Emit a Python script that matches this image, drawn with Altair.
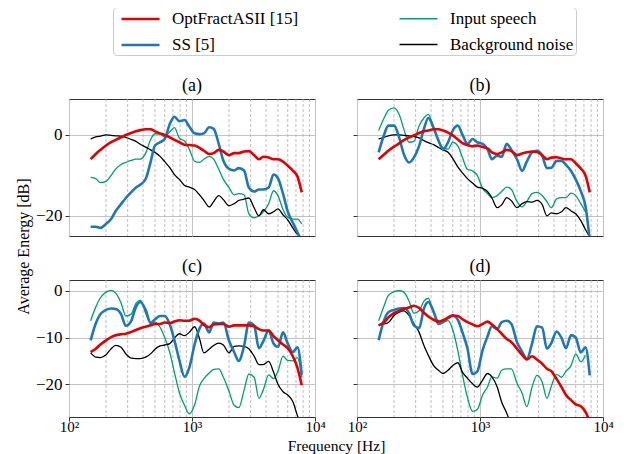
import altair as alt
import pandas as pd

FREQ = [150, 165, 180, 200, 220, 240, 265, 290, 320, 350,
        380, 420, 460, 500, 550, 600, 660, 720, 790, 870,
        950, 1050, 1150, 1250, 1380, 1500, 1650, 1800, 2000, 2200,
        2400, 2650, 2900, 3200, 3500, 3800, 4200, 4600, 5000, 5500,
        6000, 6600, 7200, 7800]

MINOR = [200, 300, 400, 500, 600, 700, 800, 900,
         2000, 3000, 4000, 5000, 6000, 7000, 8000, 9000]

SERIES = ["OptFractASII [15]", "SS [5]", "Input speech", "Background noise"]
COLORS = ["#e00000", "#1f77b4", "#009e73", "#000000"]
WIDTHS = [2.6, 2.6, 1.3, 1.3]
DRAW_ORDER = ["Input speech", "Background noise", "SS [5]", "OptFractASII [15]"]

# ---- panel (a)
RED_A = [-6.0, -4.7, -3.7, -2.6, -1.8, -1.2, -0.6, 0.0, 0.5, 0.9,
         1.2, 1.4, 1.4, 0.9, 0.4, 0.0, -0.6, -1.2, -1.8, -2.4,
         -2.5, -2.6, -3.2, -3.9, -4.7, -4.5, -3.7, -4.1, -5.0, -4.5,
         -4.5, -4.1, -4.0, -5.0, -6.0, -5.4, -5.6, -6.0, -6.0, -6.6,
         -7.6, -8.8, -10.3, -14.2]
BLUE_A = [-22.7, -22.7, -23.0, -22.0, -20.8, -18.8, -17.1, -15.6, -14.2, -13.0,
          -12.3, -10.9, -6.8, -2.6, -1.8, -1.0, 2.7, 4.5, 3.4, 3.7,
          2.1, 0.4, 0.2, 0.4, 1.9, 1.5, -2.2, -6.4, -8.4, -8.8,
          -8.2, -8.8, -13.0, -14.0, -13.5, -13.5, -13.0, -9.8, -10.7, -14.6,
          -18.9, -21.7, -24.1, -26.2]
GREEN_A = [-10.5, -10.8, -11.8, -11.5, -10.0, -8.4, -7.3, -6.8, -6.3, -6.0,
           -6.0, -4.5, -1.2, 0.3, 0.2, -0.5, 0.8, 1.8, -0.8, -1.5,
           -3.5, -6.5, -6.8, -6.0, -5.3, -6.0, -8.5, -11.0, -13.0, -14.8,
           -14.5, -14.8, -19.5, -20.5, -20.0, -19.0, -17.0, -13.8, -15.0, -18.5,
           -20.4, -20.8, -20.8, -22.0]
BLACK_A = [-1.0, -0.5, -0.3, 0.0, -0.1, -0.2, -0.3, -0.6, -1.1, -1.6,
           -2.3, -3.0, -3.7, -4.3, -5.3, -6.6, -8.1, -9.8, -11.0, -12.5,
           -12.9, -13.5, -14.8, -16.2, -17.8, -16.5, -15.0, -16.0, -17.5, -17.0,
           -16.2, -15.9, -15.6, -18.0, -20.0, -18.5, -19.5, -19.0, -18.3, -19.8,
           -21.0, -23.0, -24.6, -25.5]

# ---- panel (b)
RED_B = [-6.0, -4.9, -3.9, -2.9, -2.1, -1.3, -0.6, -0.1, 0.5, 0.9,
         1.1, 1.4, 1.4, 1.1, 0.6, -0.1, -1.1, -2.0, -2.5, -2.8,
         -2.6, -3.0, -3.3, -4.3, -4.7, -4.3, -3.7, -4.0, -5.0, -4.6,
         -4.3, -4.1, -4.2, -5.0, -6.0, -5.6, -5.5, -5.8, -6.0, -6.0,
         -7.0, -8.3, -10.0, -14.2]
BLUE_B = [-4.3, -0.2, 2.3, 2.3, -0.6, -4.7, -6.8, -5.6, -2.7, 1.5,
          4.2, 1.7, -1.4, -3.5, -1.8, 1.1, 2.3, 0.1, -2.2, -1.0,
          -1.8, -2.2, -3.5, -6.0, -5.1, -5.4, -2.2, -3.7, -6.0, -8.9,
          -6.6, -4.3, -3.9, -5.1, -8.2, -8.1, -6.4, -6.4, -7.4, -8.9,
          -11.0, -13.9, -17.6, -26.0]
GREEN_B = [1.1, 4.0, 6.1, 6.7, 5.1, 1.5, -1.8, -1.6, 2.3, 4.2,
           5.1, 1.9, -1.4, -3.2, -3.5, -1.8, -2.7, -5.6, -8.5, -8.9,
           -10.0, -13.2, -14.5, -15.5, -15.0, -14.0, -12.9, -13.5, -16.5, -17.8,
           -16.5, -14.5, -14.2, -15.0, -16.5, -18.0, -15.8, -15.5, -15.5, -14.4,
           -15.0, -17.0, -19.0, None]
BLACK_B = [-1.0, -0.6, -0.2, 0.0, 0.0, -0.1, -0.2, -0.4, -0.7, -1.4,
           -1.9, -2.4, -3.1, -3.7, -4.3, -5.8, -7.9, -9.4, -10.8, -11.9,
           -12.9, -13.2, -14.0, -15.6, -18.0, -17.3, -15.5, -16.3, -18.0, -17.0,
           -16.5, -16.6, -16.2, -17.2, -20.0, -19.3, -19.5, -19.0, -18.0, -18.8,
           -19.5, -21.2, -23.4, -25.2]

# ---- panel (c)
RED_C = [-13.1, -12.4, -11.5, -10.6, -9.9, -9.5, -9.3, -9.2, -8.8, -8.4,
         -8.0, -7.7, -7.4, -7.1, -7.1, -6.8, -6.9, -6.6, -6.3, -6.4,
         -6.4, -6.0, -6.4, -7.3, -7.8, -7.2, -7.1, -7.1, -7.7, -7.4,
         -7.4, -7.4, -7.4, -7.6, -8.2, -8.5, -8.5, -9.7, -10.6, -11.5,
         -12.3, -14.0, -16.5, -20.2]
BLUE_C = [-10.6, -7.0, -5.0, -4.1, -3.8, -3.9, -5.0, -7.5, -6.5, -3.5,
          -2.4, -4.1, -6.9, -6.1, -5.4, -5.4, -7.2, -10.6, -14.9, -18.4,
          -16.5, -11.5, -8.1, -7.0, -8.9, -6.8, -7.0, -6.8, -10.7, -13.1,
          -15.0, -11.8, -6.8, -7.4, -12.3, -10.8, -8.5, -11.3, -12.0, -8.9,
          -11.3, -13.1, -12.1, -18.0]
GREEN_C = [-6.4, -3.5, -1.5, -0.3, 0.1, -0.5, -2.6, -5.4, -5.0, -2.7,
           -2.0, -4.8, -6.8, -6.7, -7.8, -10.0, -13.2, -17.5, -21.8, -24.5,
           -26.3, -24.4, -20.4, -18.8, -17.6, -16.8, -16.7, -18.5, -21.5, -24.5,
           -25.0, -21.3, -17.8, -18.5, -23.0, -21.2, -18.0, -18.8, -17.2, -14.0,
           -14.9, -15.0, -14.3, -18.5]
BLACK_C = [-13.3, -14.2, -14.3, -13.7, -12.4, -11.7, -12.1, -13.5, -14.4, -14.5,
           -14.5, -14.2, -13.5, -12.5, -11.8, -11.6, -11.3, -10.1, -9.2, -9.6,
           -8.9, -7.7, -10.2, -13.3, -12.5, -11.7, -11.2, -11.6, -13.3, -11.9,
           -11.8, -11.9, -12.4, -14.0, -15.8, -15.8, -15.1, -17.4, -20.0, -21.6,
           -22.3, -23.7, -26.7, -29.0]

# ---- panel (d)
RED_D = [-7.4, -6.8, -5.7, -4.8, -4.3, -3.9, -3.6, -3.2, -3.7, -4.7,
         -5.5, -6.2, -6.6, -6.3, -5.8, -5.3, -5.4, -6.1, -6.7, -7.2,
         -7.6, -7.1, -6.6, -7.2, -8.2, -9.2, -10.3, -11.0, -12.4, -13.7,
         -14.7, -14.0, -14.7, -15.6, -16.7, -17.2, -18.9, -20.6, -22.3, -23.4,
         -24.3, -24.7, -25.9, -28.0]
BLUE_D = [-10.6, -6.5, -4.6, -4.1, -3.8, -3.7, -4.8, -7.4, -8.0, -3.8,
          -2.4, -4.5, -7.1, -6.7, -5.7, -5.3, -6.2, -8.9, -12.3, -17.8,
          -17.3, -12.7, -9.8, -7.6, -8.2, -6.7, -6.4, -7.1, -11.0, -13.0,
          -14.6, -11.3, -7.6, -7.9, -12.4, -11.2, -8.7, -10.1, -12.3, -9.5,
          -10.0, -13.2, -12.1, -18.1]
GREEN_D = [-6.4, -3.4, -1.0, -0.2, 0.0, -0.3, -2.2, -4.8, -4.3, -2.2,
           -1.6, -4.8, -6.4, -6.7, -6.4, -8.3, -12.8, -18.0, -22.8, -25.8,
           -25.4, -22.3, -20.6, -18.4, -18.7, -17.0, -16.7, -16.7, -19.8, -21.9,
           -24.8, -20.6, -18.1, -19.5, -23.0, -20.4, -17.9, -18.5, -17.2, -16.0,
           -13.5, -15.2, -13.8, None]
BLACK_D = [-7.4, -7.1, -6.8, -5.3, -4.6, -4.3, -5.3, -7.0, -8.9, -11.7,
           -13.8, -16.0, -17.0, -17.7, -17.0, -16.0, -15.4, -17.4, -18.7, -19.9,
           -20.6, -19.1, -17.7, -18.4, -20.6, -23.8, -26.2, -29.0, None, None,
           None, None, None, None, None, None, None, None, None, None,
           None, None, None, None]

PANEL_DATA = {
    "(a)": {"OptFractASII [15]": RED_A, "SS [5]": BLUE_A, "Input speech": GREEN_A, "Background noise": BLACK_A},
    "(b)": {"OptFractASII [15]": RED_B, "SS [5]": BLUE_B, "Input speech": GREEN_B, "Background noise": BLACK_B},
    "(c)": {"OptFractASII [15]": RED_C, "SS [5]": BLUE_C, "Input speech": GREEN_C, "Background noise": BLACK_C},
    "(d)": {"OptFractASII [15]": RED_D, "SS [5]": BLUE_D, "Input speech": GREEN_D, "Background noise": BLACK_D},
}

TOP_DOMAIN = [-25, 8.9]
BOTTOM_DOMAIN = [-27, 2.3]
TOP_TICKS = [0, -20]
BOTTOM_TICKS = [0, -10, -20]

rows = []
for pname, series in PANEL_DATA.items():
    for sname, vals in series.items():
        for f, v in zip(FREQ, vals):
            if v is not None:
                rows.append({"panel": pname, "series": sname, "freq": f, "db": v})
df = pd.DataFrame(rows)
minor_df = pd.DataFrame({"freq": MINOR})

FONT = "Liberation Serif"
W, H = 246, 137

color_scale = alt.Scale(domain=SERIES, range=COLORS)
sw_scale = alt.Scale(type="ordinal", domain=SERIES, range=WIDTHS)
legend = alt.Legend(
    title=None, orient="none", legendX=44, legendY=-92, columns=2,
    symbolType="M-0.41,0H4.06", symbolSize=289, labelOffset=37, columnPadding=94,
    rowPadding=8, padding=2, strokeColor="#cccccc", cornerRadius=4,
    fillColor="white", labelFont=FONT, labelFontSize=17, labelLimit=400,
    labelColor="black",
)

LABEL_EXPR = "datum.value == 100 ? '10\u00b2' : (datum.value == 1000 ? '10\u00b3' : '10\u2074')"


def panel(name, ydomain, yticks, xlabels, ylabels, ytitle=None, xtitle=None):
    d = df[df.panel == name]
    xaxis_kw = dict(values=[100, 1000, 10000], labels=xlabels, ticks=xlabels,
                    labelExpr=LABEL_EXPR, grid=True, labelFlush=False,
                    labelOverlap=False, labelFontSize=15, labelPadding=-2)
    if xtitle:
        xaxis_kw.update(title=xtitle, titleX=267, titleY=28, titleAlign="center",
                        titleBaseline="middle", titleFontSize=15.5)
    else:
        xaxis_kw.update(title=None)
    yaxis_kw = dict(values=yticks, labels=ylabels, grid=True, tickSize=4)
    if ytitle:
        yaxis_kw.update(title=ytitle, titleX=-46, titleY=147, titleAlign="center",
                        titleBaseline="middle", titleAngle=270)
    else:
        yaxis_kw.update(title=None)
    x = alt.X("freq:Q", scale=alt.Scale(type="log", domain=[100, 10000]),
              axis=alt.Axis(**xaxis_kw))
    y = alt.Y("db:Q", scale=alt.Scale(domain=ydomain, nice=False, zero=False),
              axis=alt.Axis(**yaxis_kw))
    layers = [
        alt.Chart(minor_df).mark_rule(color="#b0b0b0", strokeDash=[3, 2],
                                      strokeWidth=0.8).encode(x=x)
    ]
    for s in DRAW_ORDER:
        layers.append(
            alt.Chart(d[d.series == s]).mark_line(clip=True, interpolate="monotone").encode(
                x=x, y=y,
                color=alt.Color("series:N", scale=color_scale, legend=legend),
                strokeWidth=alt.StrokeWidth("series:N", scale=sw_scale, legend=legend),
            )
        )
    return alt.layer(*layers).properties(width=W, height=H, title=name)


pa = panel("(a)", TOP_DOMAIN, TOP_TICKS, False, True, ytitle="Average Energy [dB]")
pb = panel("(b)", TOP_DOMAIN, TOP_TICKS, False, False)
pc = panel("(c)", BOTTOM_DOMAIN, BOTTOM_TICKS, True, True, xtitle="Frequency [Hz]")
pdd = panel("(d)", BOTTOM_DOMAIN, BOTTOM_TICKS, True, False)

chart = alt.concat(pa, pb, pc, pdd, columns=2, spacing={"row": 44, "column": 42},
                   bounds="flush").properties(
    padding={"left": 6, "top": -2, "right": 0, "bottom": 0}
).configure_view(
    stroke="#333333", strokeWidth=1
).configure_axis(
    labelFont=FONT, labelFontSize=17, labelColor="black", titleFont=FONT,
    titleFontSize=16, titleFontWeight="normal", titleColor="black",
    domain=False, tickColor="#333333", tickSize=4, gridColor="#c4c4c4",
    gridWidth=1, labelPadding=3
).configure_title(
    font=FONT, fontSize=18, fontWeight="normal", color="black", offset=4,
    anchor="middle"
)

chart.save("out.html", embed_options={"renderer": "svg", "actions": False})
